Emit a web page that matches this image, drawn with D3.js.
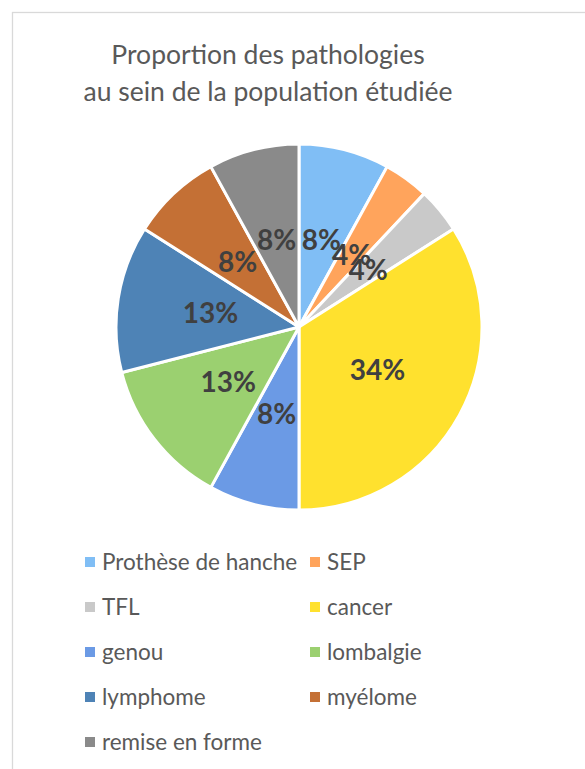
<!DOCTYPE html>
<html>
<head>
<meta charset="utf-8">
<script src="https://cdn.jsdelivr.net/npm/d3@7"></script>
<style>
  body { margin: 0; background: #fff; }
</style>
</head>
<body>
<script>
const w = 585;
const h = 769;

const categories = ["Prothèse de hanche", "SEP", "TFL", "cancer", "genou",
                    "lombalgie", "lymphome", "myélome", "remise en forme"];
const values = [8, 4, 4, 34, 8, 13, 13, 8, 8];
const colors = ["#80bef5", "#ffa45c", "#c9c9c9", "#ffe12e", "#6b9ae5",
                "#9bd070", "#4e83b6", "#c47035", "#8a8a8a"];
const titleLines = ["Proportion des pathologies", "au sein de la population étudiée"];

const cx = 299, cy = 327, radius = 183;
const textColor = "#595959";

const svg = d3.select("body")
              .append("svg")
              .attr("width", w)
              .attr("height", h);

// chart frame
svg.append("rect")
   .attr("x", 12.5)
   .attr("y", 12.5)
   .attr("width", 600)
   .attr("height", 800)
   .attr("fill", "#fff")
   .attr("stroke", "#d9d9d9")
   .attr("stroke-width", 1.3);

svg.append("g")
   .selectAll("text")
   .data(titleLines)
   .enter()
   .append("text")
   .attr("x", 268)
   .attr("y", (d, i) => 64 + i * 37)
   .attr("text-anchor", "middle")
   .attr("font-family", "Lato")
   .attr("font-size", 26.5)
   .attr("fill", textColor)
   .text(d => d);

const color = d3.scaleOrdinal()
    .domain(categories)
    .range(colors);

const pie = d3.pie()
    .value(d => d.value)
    .sort(null);

const arcs = pie(categories.map((c, i) => ({name: c, value: values[i]})));

const arc = d3.arc()
    .innerRadius(0)
    .outerRadius(radius);

const labelArc = d3.arc()
    .innerRadius(radius * 0.49)
    .outerRadius(radius * 0.49);

const g = svg.append("g")
    .attr("transform", `translate(${cx},${cy})`);

g.selectAll("path")
 .data(arcs)
 .enter()
 .append("path")
 .attr("d", arc)
 .attr("fill", d => color(d.data.name))
 .attr("stroke", "#fff")
 .attr("stroke-width", 3)
 .attr("stroke-linejoin", "round");

g.selectAll("text")
 .data(arcs)
 .enter()
 .append("text")
 .attr("transform", d => `translate(${labelArc.centroid(d)})`)
 .attr("text-anchor", "middle")
 .attr("dy", "0.36em")
 .attr("font-family", "Lato")
 .attr("font-weight", "bold")
 .attr("font-size", 28)
 .attr("fill", "#404040")
 .text(d => d.data.value + "%");

// legend, two columns
const legend = svg.append("g")
    .selectAll("g")
    .data(categories)
    .enter()
    .append("g")
    .attr("transform", (d, i) => `translate(${i % 2 ? 310 : 85},${562 + Math.floor(i / 2) * 45})`);

legend.append("rect")
      .attr("x", 0)
      .attr("y", -5)
      .attr("width", 10)
      .attr("height", 10)
      .attr("fill", d => color(d));

legend.append("text")
      .attr("x", 17)
      .attr("dy", "0.36em")
      .attr("font-family", "Lato")
      .attr("font-size", 22.5)
      .attr("fill", textColor)
      .text(d => d);
</script>
</body>
</html>
